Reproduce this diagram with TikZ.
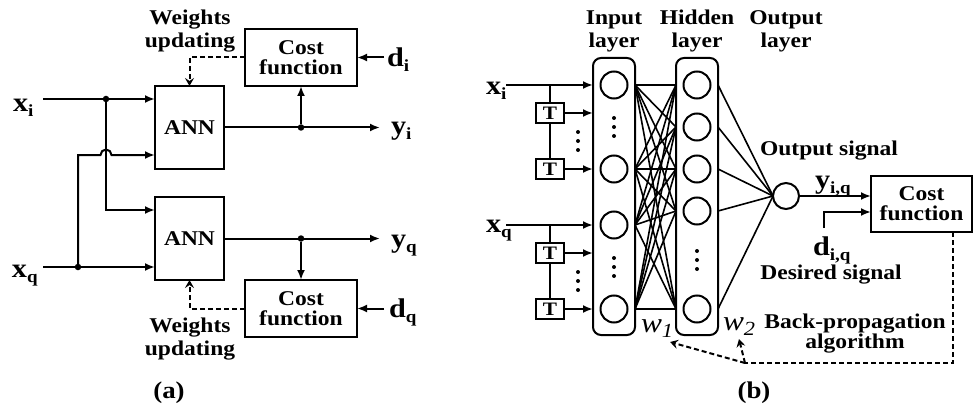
\documentclass[tikz,border=0pt]{standalone}
\usepackage{fontspec}
\setmainfont{Liberation Serif}[FakeStretch=1.12]
\usetikzlibrary{arrows.meta,calc}
\newcommand\sublab[2]{{\fontsize{27}{27}\selectfont #1}\raisebox{-5pt}{\fontsize{17}{17}\selectfont #2}}
\newcommand\wlab[1]{{\fontsize{28}{28}\selectfont\mdseries\itshape w}\raisebox{-5pt}{\fontsize{20}{20}\selectfont\mdseries\itshape #1}}
\begin{document}
\begin{tikzpicture}[x=1pt,y=-1pt,
  every node/.style={font=\fontsize{21}{23}\selectfont\bfseries, inner sep=0pt, outer sep=0pt},
  wire/.style={line width=2pt},
  thinwire/.style={line width=1.6pt},
  arr/.style={wire,-{Latex[length=10pt,width=8pt]}},
  dline/.style={line width=2pt,dash pattern=on 5pt off 3pt},
  darr/.style={dline,-{Stealth[length=8pt,width=9pt,inset=3pt]}},
  box/.style={draw,line width=2pt,rectangle,align=center,font=\fontsize{21}{20}\selectfont\bfseries},
  neuron/.style={draw,circle,line width=2pt,minimum size=27pt},
  layerbox/.style={draw,rounded corners=8pt,line width=2pt,minimum width=42pt,minimum height=277pt},
  dotj/.style={circle,fill,minimum size=6.5pt},
  tbox/.style={draw,line width=2pt,minimum width=28pt,minimum height=20pt,font=\fontsize{19}{19}\selectfont\bfseries},
  lbl/.style={align=center},
  caption/.style={font=\fontsize{24}{24}\selectfont\bfseries}
]
\useasboundingbox (0,0) rectangle (974,409);

% ================= (a) =================
\node[box,minimum width=69pt,minimum height=83pt] (ann1) at (189.5,127.5) {ANN};
\node[box,minimum width=69pt,minimum height=83pt] (ann2) at (189.5,238.5) {ANN};
\node[box,minimum width=112pt,minimum height=57pt] (cf1) at (301,57.5) {Cost\\function};
\node[box,minimum width=112pt,minimum height=57pt] (cf2) at (301,308.5) {Cost\\function};

\node[anchor=base west] (xia) at (13,112) {\sublab{x}{i}};
\node[anchor=base west] (xqa) at (12,277) {\sublab{x}{q}};
\node[anchor=base west] (yia) at (391,135) {\sublab{y}{i}};
\node[anchor=base west] (yqa) at (391,247) {\sublab{y}{q}};
\node[anchor=base west] (dia) at (387,67) {\sublab{d}{i}};
\node[anchor=base west] (dqa) at (389,317) {\sublab{d}{q}};

\node[lbl] (wu1) at (190,31) {Weights\\updating};
\node[lbl] (wu2) at (190,339) {Weights\\updating};
\node[caption] (capa) at (169,393) {(a)};

\coordinate (xis) at (43,99);
\coordinate (xqs) at (43,267);
\node[dotj] (j1) at (106,99) {};
\node[dotj] (j2) at (78,267) {};
\coordinate (c1) at (106,210);
\coordinate (c2) at (78,155);
\coordinate (c3) at (100.5,155);

\draw[arr] (xis) -- (ann1.west |- xis);
\draw[arr] (xqs) -- (ann2.west |- xqs);
\draw[arr] (j1) -- (c1) -- (ann2.west |- c1);
\draw[arr] (j2) -- (c2) -- (c3) arc[start angle=180,end angle=0,radius=5.5pt] -- (ann1.west |- c2);

\node[dotj] (j3) at (301,127.5) {};
\node[dotj] (j4) at (301,238.5) {};
\coordinate (yie) at (380,127.5);
\coordinate (yqe) at (380,238.5);
\draw[arr] (ann1.east) -- (yie);
\draw[arr] (ann2.east) -- (yqe);
\draw[arr] (j3) -- (cf1.south);
\draw[arr] (j4) -- (cf2.north);
\coordinate (dis) at (384,57.5);
\coordinate (dqs) at (384,308.5);
\draw[arr] (dis) -- (cf1.east);
\draw[arr] (dqs) -- (cf2.east);

\draw[darr] (cf1.west) -- (ann1.north |- cf1.west) -- (ann1.north);
\draw[darr] (cf2.west) -- (ann2.south |- cf2.west) -- (ann2.south);

% ================= (b) =================
\node[lbl] (hin) at (614,31) {Input\\layer};
\node[lbl] (hhid) at (697,31) {Hidden\\layer};
\node[lbl] (hout) at (786,31) {Output\\layer};

\node[layerbox] (IL) at (614,196.5) {};
\node[layerbox] (HL) at (697,196.5) {};

\node[neuron] (i1) at (614,85) {};
\node[neuron] (i2) at (614,169) {};
\node[neuron] (i3) at (614,225) {};
\node[neuron] (i4) at (614,309) {};
\node[neuron] (h1) at (697,85) {};
\node[neuron] (h2) at (697,127) {};
\node[neuron] (h3) at (697,169) {};
\node[neuron] (h4) at (697,211) {};
\node[neuron] (h5) at (697,309) {};
\node[neuron,minimum size=26pt] (O) at (786,196) {};

\foreach \y in {118,127,136} \fill (614,\y) circle (2pt);
\foreach \y in {258,267,276} \fill (614,\y) circle (2pt);
\foreach \y in {251,260,269} \fill (697,\y) circle (2pt);
\foreach \y in {132,141,150} \fill (578,\y) circle (2pt);
\foreach \y in {272,281,290} \fill (578,\y) circle (2pt);

\foreach \a in {i1,i2,i3,i4}
  \foreach \b in {h1,h2,h3,h4,h5}
    \draw[thinwire] (IL.east |- \a) -- (HL.west |- \b);
\foreach \b in {h1,h2,h3,h4,h5}
  \draw[thinwire] (HL.east |- \b) -- (O.west);

\node[anchor=base west] (xib) at (486,95) {\sublab{x}{i}};
\node[anchor=base west] (xqb) at (486,232) {\sublab{x}{q}};
\node[tbox] (t1) at (550,113) {T};
\node[tbox] (t2) at (550,169) {T};
\node[tbox] (t3) at (550,253) {T};
\node[tbox] (t4) at (550,309) {T};
\coordinate (xibs) at (506,85);
\coordinate (xqbs) at (506,225);
\draw[arr] (xibs) -- (IL.west |- i1);
\draw[arr] (xqbs) -- (IL.west |- i3);
\draw[wire] (t1.north |- i1) -- (t1.north);
\draw[wire] (t1.south) -- (t2.north);
\draw[wire] (t3.north |- i3) -- (t3.north);
\draw[wire] (t3.south) -- (t4.north);
\draw[arr] (t1.east) -- (IL.west |- t1);
\draw[arr] (t2.east) -- (IL.west |- t2);
\draw[arr] (t3.east) -- (IL.west |- t3);
\draw[arr] (t4.east) -- (IL.west |- t4);

\node[box,minimum width=101pt,minimum height=56pt] (cfb) at (921.5,204) {Cost\\function};
\node (outsig) at (829,151) {Output signal};
\node[anchor=base west] (yiq) at (815,188) {\sublab{y}{i,q}};
\node[anchor=base west] (diq) at (813,255) {\sublab{d}{i,q}};
\node (dessig) at (831,275) {Desired signal};
\draw[arr] (O.east) -- (cfb.west |- O.east);
\coordinate (dstart) at (824,228);
\coordinate (dcorner) at (824,212);
\draw[arr] (dstart) -- (dcorner) -- (cfb.west |- dcorner);

\node[anchor=base west] (w1) at (641,332) {\wlab{1}};
\node[anchor=base west] (w2) at (723,330) {\wlab{2}};
\node[lbl,font=\fontsize{21}{20}\selectfont\bfseries] (bp) at (855,334) {Back-propagation\\algorithm};
\coordinate (bp1) at (953,363);
\coordinate (bp2) at (745,363);
\coordinate (w1tip) at (670,342);
\coordinate (w2tip) at (739,339);
\draw[dline] (bp1 |- cfb.south) -- (bp1) -- (bp2);
\draw[darr] (bp2) -- (w2tip);
\draw[darr] (bp2) -- (w1tip);

\node[caption] (capb) at (754,393) {(b)};
\end{tikzpicture}
\end{document}
